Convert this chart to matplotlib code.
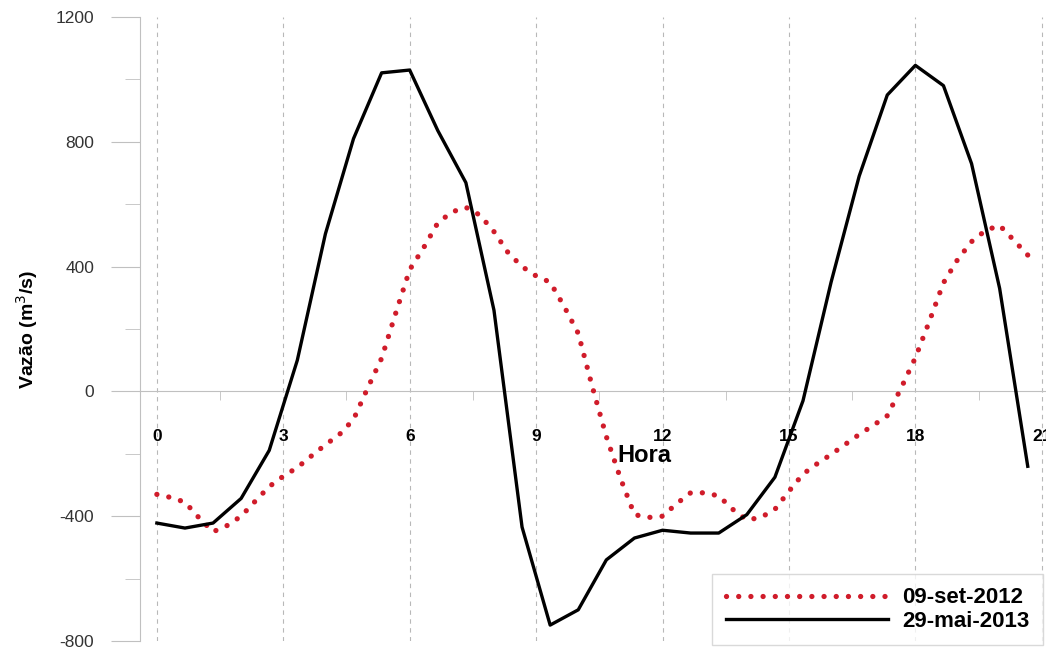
import matplotlib
matplotlib.use("Agg")
import matplotlib.pyplot as plt
from matplotlib.ticker import MultipleLocator
import numpy as np

plt.rcParams['font.family'] = ['Liberation Sans', 'DejaVu Sans']
plt.rcParams['axes.unicode_minus'] = False

# 29-mai-2013, one value every 40 min
t_2013 = [k * 2 / 3 for k in range(32)]
q_2013 = [-422, -438, -422, -343, -189, 100, 505, 810, 1021, 1030, 836, 669,
          260, -435, -749, -700, -540, -470, -445, -454, -454, -395, -275, -30,
          350, 690, 950, 1045, 980, 730, 330, -240]

# 09-set-2012, one value every 20 min
t_2012 = [k / 3 for k in range(63)]
q_2012 = [-330, -340, -355, -405, -450, -430, -400, -352, -305, -272, -244, -207,
          -171, -138, -90, 10, 106, 250, 390, 461, 540, 575, 590, 565,
          512, 445, 400, 370, 350, 272, 186, 15, -145, -278, -395, -404,
          -400, -360, -325, -325, -335, -378, -412, -404, -378, -320, -265, -232,
          -202, -170, -138, -109, -78, 12, 108, 225, 348, 422, 480, 516,
          532, 485, 437]

fig = plt.figure(figsize=(10.46, 6.48), dpi=100)
ax = fig.add_axes([140 / 1046, 1 - 641 / 648, 1 - 140 / 1046, (641 - 17) / 648])

gray = '#c0c0c0'
ax.plot(t_2012, q_2012, color='#d01c2a', lw=3.8, linestyle=(0, (0.01, 2.3)),
        dash_capstyle='round', label='09-set-2012', zorder=3)
ax.plot(t_2013, q_2013, color='black', lw=2.4, label='29-mai-2013', zorder=4)

ax.set_xlim(-0.4, 21.1)
ax.set_ylim(-800, 1200)

for s in ['top', 'right']:
    ax.spines[s].set_visible(False)
ax.spines['bottom'].set_position(('data', 0))
ax.spines['bottom'].set_color(gray)
ax.spines['left'].set_color(gray)

# tick sizes in points (px * 0.72)
ax.yaxis.set_major_locator(MultipleLocator(400))
ax.yaxis.set_minor_locator(MultipleLocator(200))
ax.tick_params(axis='y', which='major', length=21, color=gray, pad=12,
               labelsize=12.5, labelcolor='#333333')
ax.tick_params(axis='y', which='minor', length=11, color=gray)

ax.xaxis.set_major_locator(MultipleLocator(3))
ax.xaxis.set_minor_locator(MultipleLocator(1.5))
ax.tick_params(axis='x', which='major', length=0, pad=27, labelsize=12.5)
ax.tick_params(axis='x', which='minor', length=6.5, color=gray)
for lab in ax.get_xticklabels():
    lab.set_fontweight('bold')
ax.grid(axis='x', which='major', color='#b8b8b8', linestyle=(0, (4, 4)), lw=0.8)
ax.set_axisbelow(True)

ax.text(0.557, 0.298, 'Hora', transform=ax.transAxes, ha='center', va='center',
        fontsize=17, fontweight='bold')
fig.text(27 / 1046, 1 - 330 / 648, 'Vazão (m$^3$/s)', rotation=90, ha='center',
         va='center', fontsize=14, fontweight='bold')

leg = ax.legend(loc='lower right', bbox_to_anchor=(1043 / 1046, 3 / 648),
                bbox_transform=fig.transFigure, frameon=True, fancybox=False,
                handlelength=7.3, handletextpad=0.65,
                prop={'weight': 'bold', 'size': 16},
                borderpad=0.6, labelspacing=0.1, borderaxespad=0)
leg.get_frame().set_edgecolor('#d0d0d0')
leg.get_frame().set_linewidth(1)

fig.savefig('out.png', dpi=100)
